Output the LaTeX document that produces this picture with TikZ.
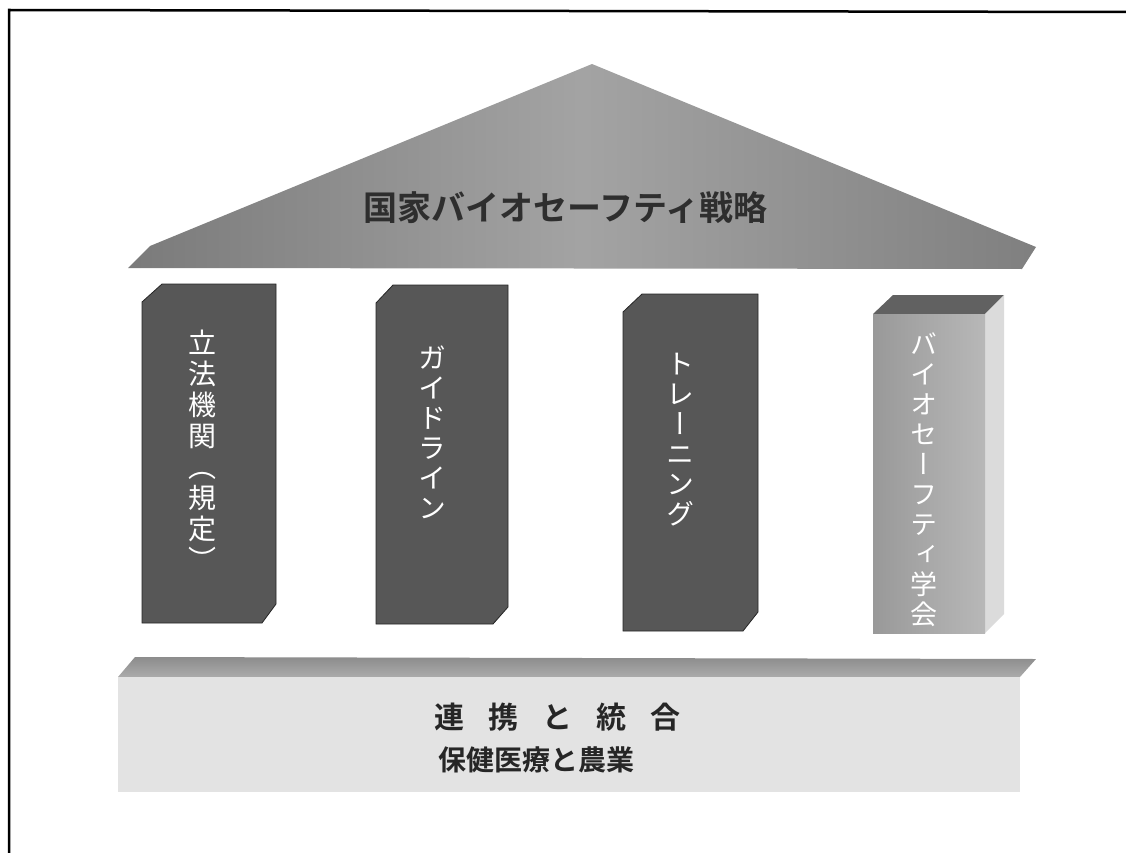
\documentclass[tikz,border=0pt]{standalone}
\usepackage{fontspec}
\newfontfamily\jp{Noto Sans CJK JP}
\newfontfamily\jpv{Noto Sans CJK JP}[RawFeature=+vert]
\newfontfamily\jpb{Noto Sans CJK JP Bold}
\begin{document}
\begin{tikzpicture}[x=1pt,y=-1pt,
  pillarfill/.style={fill=black!66, draw=black!85, line width=0.8pt},
  vlabel/.style={align=center, text=white, inner sep=0pt, font=\jpv\fontsize{28}{31}\selectfont},
  vlabelb/.style={align=center, text=white, inner sep=0pt, font=\jpv\fontsize{27}{30}\selectfont}]
\useasboundingbox (0,0) rectangle (1126,853);
% frame
\draw[line width=2.5pt] (9,853) -- (9,10) -- (1126,12);
% roof
\shade[left color=black!52, right color=black!50, middle color=black!36]
  (128,268) -- (150,246) -- (592,64) -- (1036,247) -- (1022,269) -- cycle;
\node[font=\jpb\fontsize{34}{34}\selectfont, text=black!82] (title) at (565,208) {国家バイオセーフティ戦略};
% pillar 1
\path[pillarfill] (142,302) -- (162,284) -- (276,284) -- (276,604) -- (262,623) -- (142,623) -- cycle;
\node[vlabel] (t1) at (202,450) {立\\法\\機\\関\\（\\規\\定\\）};
% pillar 2
\path[pillarfill] (376,303) -- (393,285) -- (508,285) -- (508,607) -- (493,624) -- (376,624) -- cycle;
\node[vlabel, font=\jpv\fontsize{28}{30}\selectfont] (t2) at (432,432) {ガ\\イ\\ド\\ラ\\イ\\ン};
% pillar 3
\path[pillarfill] (623,312) -- (642,294) -- (758,294) -- (758,612) -- (743,631) -- (623,631) -- cycle;
\node[vlabel, font=\jpv\fontsize{28}{30}\selectfont] (t3) at (680,440) {ト\\レ\\ー\\ニ\\ン\\グ};
% pillar 4 (box)
\fill[black!62] (873,314) -- (893,295) -- (1004,295) -- (985,314) -- cycle;
\fill[black!14] (985,314) -- (1004,295) -- (1004,614) -- (985,633) -- cycle;
\shade[left color=black!40, right color=black!28] (873,314) rectangle (985,633);
\node[vlabelb] (t4) at (924,480) {バ\\イ\\オ\\セ\\ー\\フ\\テ\\ィ\\学\\会};
% base
\shade[top color=black!45, bottom color=black!33] (135,657) -- (1036,659) -- (1020,677) -- (118,677) -- cycle;
\fill[black!11] (118,677) rectangle (1020,792);
\node[font=\jpb\fontsize{30}{30}\selectfont, text=black!85] (b1) at (557,717)
  {連\hspace{24pt}携\hspace{24pt}と\hspace{24pt}統\hspace{24pt}合};
\node[font=\jpb\fontsize{28}{28}\selectfont, text=black!85] (b2) at (536,760) {保健医療と農業};
\end{tikzpicture}
\end{document}
